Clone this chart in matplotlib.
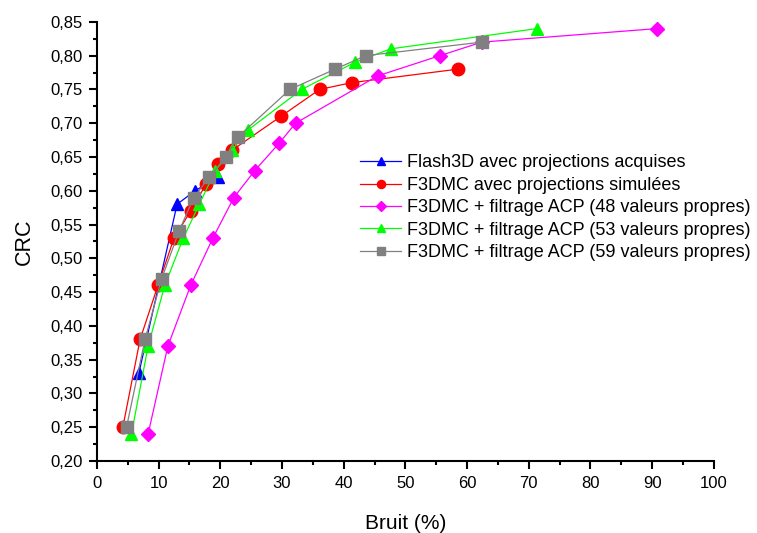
import matplotlib
matplotlib.use('Agg')
import matplotlib.pyplot as plt
from matplotlib.ticker import MultipleLocator, FuncFormatter

plt.rcParams['font.family'] = ['Liberation Sans', 'DejaVu Sans']

# Flash3D avec projections acquises
flash_x = [6.8, 13.0, 15.9, 19.6]
flash_y = [0.33, 0.58, 0.60, 0.62]

# F3DMC avec projections simulees
sim_x = [4.2, 7.0, 9.9, 12.5, 15.2, 17.7, 19.6, 21.9, 29.8, 36.1, 41.3, 58.5]
sim_y = [0.25, 0.38, 0.46, 0.53, 0.57, 0.61, 0.64, 0.66, 0.71, 0.75, 0.76, 0.78]

# ACP 48
acp48_x = [8.3, 11.5, 15.2, 18.8, 22.2, 25.6, 29.5, 32.2, 45.5, 55.6, 62.4, 90.8]
acp48_y = [0.24, 0.37, 0.46, 0.53, 0.59, 0.63, 0.67, 0.70, 0.77, 0.80, 0.82, 0.84]

# ACP 53
acp53_x = [5.6, 8.3, 11.0, 14.0, 16.6, 19.2, 21.9, 24.5, 33.2, 41.8, 47.6, 71.3]
acp53_y = [0.24, 0.37, 0.46, 0.53, 0.58, 0.63, 0.66, 0.69, 0.75, 0.79, 0.81, 0.84]

# ACP 59
acp59_x = [4.8, 7.8, 10.5, 13.3, 15.7, 18.2, 20.9, 22.9, 31.3, 38.6, 43.6, 62.4]
acp59_y = [0.25, 0.38, 0.47, 0.54, 0.59, 0.62, 0.65, 0.68, 0.75, 0.78, 0.80, 0.82]

labels = ['Flash3D avec projections acquises',
          'F3DMC avec projections simulées',
          'F3DMC + filtrage ACP (48 valeurs propres)',
          'F3DMC + filtrage ACP (53 valeurs propres)',
          'F3DMC + filtrage ACP (59 valeurs propres)']

fig = plt.figure(figsize=(7.57, 5.33), dpi=100)
ax = fig.add_axes([0.128, 0.135, 0.815, 0.824])

lw = 0.9
ax.plot(flash_x, flash_y, color='#0000FF', marker='^', markersize=9, lw=lw, label=labels[0])
ax.plot(sim_x, sim_y, color='#FF0000', marker='o', markersize=9, lw=lw, label=labels[1])
ax.plot(acp48_x, acp48_y, color='#FF00FF', marker='D', markersize=7.5, lw=lw, label=labels[2])
ax.plot(acp53_x, acp53_y, color='#00FF00', marker='^', markersize=9, lw=lw, label=labels[3])
ax.plot(acp59_x, acp59_y, color='#808080', marker='s', markersize=8, lw=lw, label=labels[4])

ax.set_xlim(0, 100)
ax.set_ylim(0.20, 0.85)
ax.xaxis.set_major_locator(MultipleLocator(10))
ax.xaxis.set_minor_locator(MultipleLocator(5))
ax.yaxis.set_major_locator(MultipleLocator(0.05))
ax.yaxis.set_minor_locator(MultipleLocator(0.025))
ax.yaxis.set_major_formatter(FuncFormatter(lambda v, p: ('%.2f' % v).replace('.', ',')))

for s in ['top', 'right']:
    ax.spines[s].set_visible(False)
for s in ['left', 'bottom']:
    ax.spines[s].set_linewidth(1.5)
ax.tick_params(which='major', direction='out', length=6, width=1.5, labelsize=12, pad=4.5)
ax.tick_params(which='minor', direction='out', length=3, width=1.5)

ax.set_xlabel('Bruit (%)', fontsize=15, labelpad=17)
ax.set_ylabel('CRC', fontsize=15.5, labelpad=11)

leg = ax.legend(loc='upper left', bbox_to_anchor=(0.40, 0.735), frameon=False,
                fontsize=13, handlelength=2.3, handletextpad=0.3, labelspacing=0.3,
                markerscale=0.65)

fig.savefig('out.png', dpi=100)
